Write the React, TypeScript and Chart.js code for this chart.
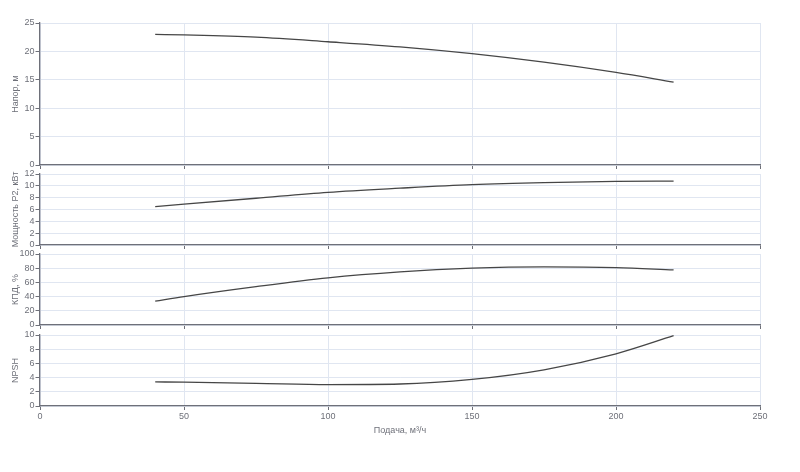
import { useEffect, useRef } from "react"
import { Chart, registerables } from "chart.js"

Chart.register(...registerables)

// Pump curves
const flow = [40, 50, 75, 100, 125, 150, 175, 200, 220]
const head = [23.0, 22.9, 22.5, 21.7, 20.8, 19.6, 18.1, 16.3, 14.6]
const power = [6.5, 6.9, 7.9, 8.9, 9.6, 10.2, 10.55, 10.75, 10.8]
const efficiency = [33.6, 40, 54, 66.4, 74.8, 80, 81.8, 80.8, 77.6]
const npsh = [3.4, 3.35, 3.2, 3.02, 3.1, 3.75, 5.1, 7.35, 9.9]
const xTicks = [0, 50, 100, 150, 200, 250]

const FONT = "'Liberation Sans', Arial, sans-serif"
const AXIS = "#6E7079"
const GRID = "#E0E6F1"
const LINE = "#464646"

type PanelProps = {
  title: string
  values: number[]
  max: number
  step: number
  top: number
  bottom: number
  last?: boolean
}

function Panel({ title, values, max, step, top, bottom, last = false }: PanelProps) {
  const ref = useRef<HTMLCanvasElement>(null)
  const padTop = 8
  // room under the plot: tick marks only, or labels + axis title on the last panel
  const axisH = last ? 30 : 8
  const height = bottom - top + padTop + axisH

  useEffect(() => {
    if (!ref.current) return
    const font = { size: 9, family: FONT }
    const chart = new Chart(ref.current, {
      type: "line",
      data: {
        datasets: [
          {
            data: flow.map((x, i) => ({ x, y: values[i] })),
            borderColor: LINE,
            borderWidth: 1.3,
            pointRadius: 0,
            cubicInterpolationMode: "monotone",
            fill: false,
          },
        ],
      },
      options: {
        animation: false,
        responsive: false,
        layout: { padding: { top: padTop, right: 40, left: 0, bottom: 0 } },
        plugins: { legend: { display: false }, tooltip: { enabled: false } },
        scales: {
          x: {
            type: "linear",
            min: 0,
            max: 250,
            afterBuildTicks: (s: any) => {
              s.ticks = xTicks.map((v) => ({ value: v }))
            },
            ticks: { display: last, color: AXIS, font, padding: 1, maxRotation: 0, autoSkip: false },
            grid: { color: GRID, lineWidth: 1, tickColor: AXIS, tickLength: 4 },
            border: { color: AXIS, width: 1.3 },
            title: {
              display: last,
              text: "Подача, м³/ч",
              color: AXIS,
              font,
              padding: { top: 0, bottom: 0 },
            },
            afterFit: (s: any) => {
              s.height = axisH
            },
          },
          y: {
            min: 0,
            max,
            ticks: { stepSize: step, color: AXIS, font, padding: 1, autoSkip: false },
            grid: { color: GRID, lineWidth: 1, tickColor: AXIS, tickLength: 4.5 },
            border: { color: AXIS, width: 1.3 },
            title: {
              display: true,
              text: title,
              color: AXIS,
              font,
              padding: { top: 10, bottom: 0 },
            },
            afterFit: (s: any) => {
              s.width = 40
            },
          },
        },
      },
    })
    return () => chart.destroy()
  }, [])

  return (
    <canvas
      ref={ref}
      width={800}
      height={height}
      style={{ position: "absolute", left: 0, top: top - padTop, width: 800, height }}
    />
  )
}

export default function App() {
  return (
    <div style={{ position: "fixed", left: 0, top: 0, width: 800, height: 472, background: "#fff" }}>
      <Panel title="Напор, м" values={head} max={25} step={5} top={23} bottom={165} />
      <Panel title="Мощность P2, кВт" values={power} max={12} step={2} top={174} bottom={245} />
      <Panel title="КПД, %" values={efficiency} max={100} step={20} top={254} bottom={325} />
      <Panel title="NPSH" values={npsh} max={10} step={2} top={335} bottom={406} last />
    </div>
  )
}
